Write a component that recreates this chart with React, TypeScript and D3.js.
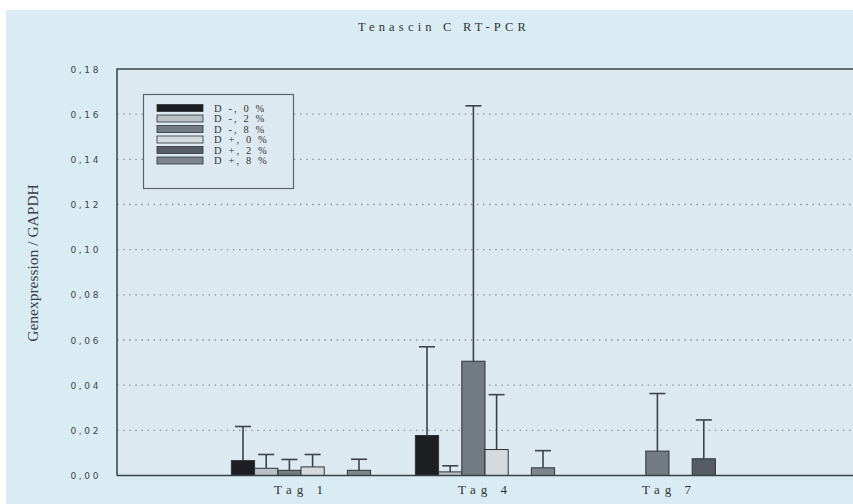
import React from "react";
import * as d3 from "d3";

const groups = ["Tag 1", "Tag 4", "Tag 7"];
const seriesNames = ["D -, 0 %", "D -, 2 %", "D -, 8 %", "D +, 0 %", "D +, 2 %", "D +, 8 %"];
const seriesColors = ["#1c1e21", "#b9c1c7", "#737b82", "#d3dbe0", "#555c63", "#7e868d"];
// values [series][group]
const means = [
  [0.0066, 0.0177, 0],
  [0.0032, 0.0016, 0],
  [0.0023, 0.0506, 0.0108],
  [0.0038, 0.0115, 0],
  [0, 0, 0.0074],
  [0.0023, 0.0034, 0],
];
const upper = [
  [0.0217, 0.057, null],
  [0.0093, 0.0043, null],
  [0.0071, 0.1637, 0.0363],
  [0.0093, 0.0358, null],
  [null, null, 0.0246],
  [0.0072, 0.011, null],
];
const yTicks = [0, 0.02, 0.04, 0.06, 0.08, 0.1, 0.12, 0.14, 0.16, 0.18];

const W = 853, H = 504;
const L = 117, R = 853, T = 69, B = 475.5;

export default function App() {
  const y = d3.scaleLinear().domain([0, 0.18]).range([B, T]);
  const x = d3.scalePoint<string>().domain(groups).range([L, R]).padding(1);
  const barW = 23.2;
  const nS = seriesNames.length;
  const fmt = (v: number) => v.toFixed(2).replace(".", ",");
  return (
    <svg width={W} height={H} style={{ position: "absolute", left: 0, top: 0, display: "block" }}>
      <rect x={0} y={0} width={W} height={H} fill="#ffffff" />
      <rect x={6} y={10} width={W - 6} height={H - 10} fill="#d9ebf3" />
      <rect x={L} y={T} width={R - L} height={B - T} fill="#dde9f0" />
      <text x={444} y={31} textAnchor="middle" fontFamily="Liberation Serif, serif" fontSize={12.5} letterSpacing={4.2} fill="#333">
        Tenascin C RT-PCR
      </text>
      {yTicks.slice(1, -1).map((t) => (
        <line key={t} x1={L} x2={R} y1={y(t)} y2={y(t)} stroke="#8a949c" strokeWidth={1.4} strokeDasharray="1.5,4.6" />
      ))}
      {yTicks.map((t) => (
        <text key={"l" + t} x={101} y={y(t) + 3.5} textAnchor="end" fontFamily="DejaVu Sans, sans-serif" fontSize={9} letterSpacing={2.6} fill="#444">
          {fmt(t)}
        </text>
      ))}
      <text transform={`translate(38,${263}) rotate(-90)`} textAnchor="middle" fontFamily="Liberation Serif, serif" fontSize={15.5} fill="#3a3f44">
        Genexpression / GAPDH
      </text>
      {groups.map((g, gi) => {
        const start = (x(g) as number) - (nS * barW) / 2;
        return (
          <g key={g}>
            {seriesNames.map((s, si) => {
              const v = means[si][gi];
              const u = upper[si][gi];
              const bx = start + si * barW;
              const cx = bx + barW / 2;
              return (
                <g key={s}>
                  {u !== null && (
                    <g stroke="#3c434a" strokeWidth={1.6}>
                      <line x1={cx} x2={cx} y1={y(v)} y2={y(u)} />
                      <line x1={cx - 8} x2={cx + 8} y1={y(u)} y2={y(u)} />
                    </g>
                  )}
                  {v > 0 && (
                    <rect x={bx} y={y(v)} width={barW} height={B - y(v)} fill={seriesColors[si]} stroke="#2e3338" strokeWidth={1} />
                  )}
                </g>
              );
            })}
            <text x={x(g) as number} y={494} textAnchor="middle" fontFamily="Liberation Serif, serif" fontSize={13} letterSpacing={5} fill="#333">
              {g}
            </text>
          </g>
        );
      })}
      <path d={`M${L},${B}V${T}H${R}`} fill="none" stroke="#3a4148" strokeWidth={1.5} />
      <line x1={L} x2={R} y1={B} y2={B} stroke="#3a4148" strokeWidth={1.5} />
      <rect x={143.5} y={94.5} width={150} height={94} fill="#dde9f0" stroke="#5c646b" strokeWidth={1.2} />
      {seriesNames.map((s, si) => {
        const ry = 108 + si * 10.5;
        return (
          <g key={s}>
            <rect x={157} y={ry - 3.5} width={46} height={7} fill={seriesColors[si]} stroke="#2e3338" strokeWidth={0.8} />
            <text x={214} y={ry + 3.8} fontFamily="Liberation Serif, serif" fontSize={10.5} letterSpacing={2.1} fill="#333">
              {s}
            </text>
          </g>
        );
      })}
    </svg>
  );
}
